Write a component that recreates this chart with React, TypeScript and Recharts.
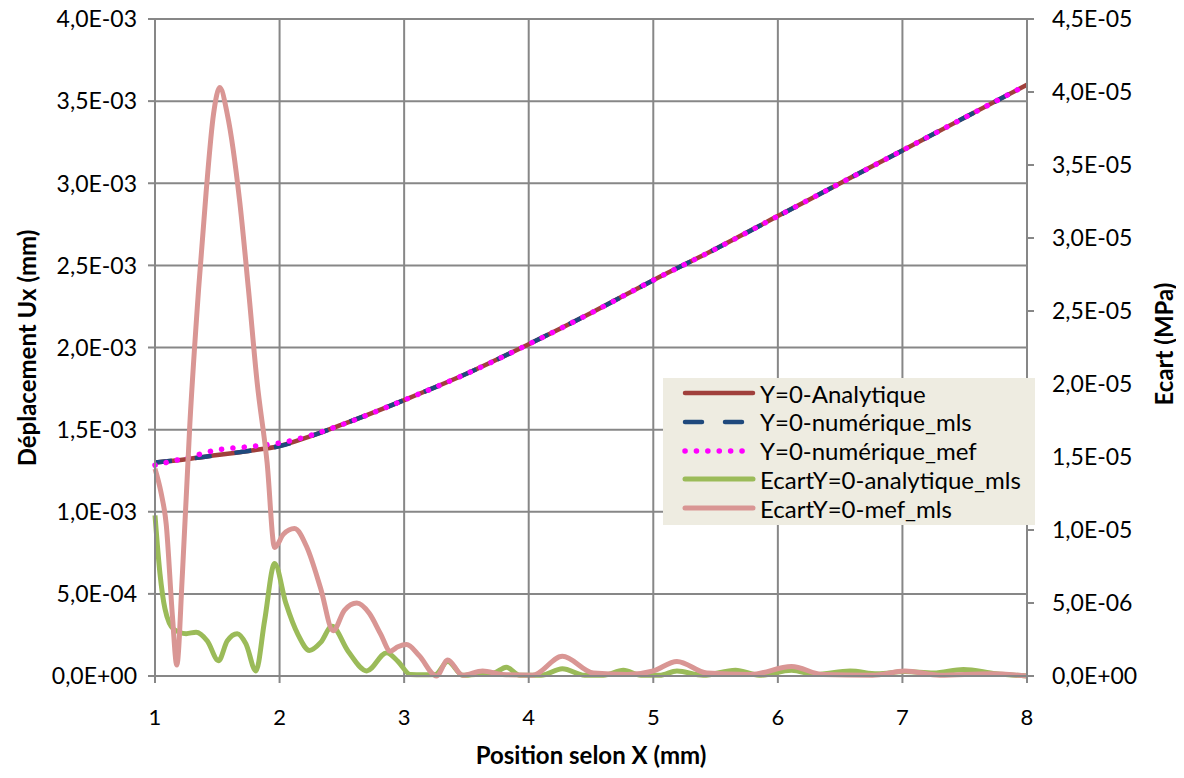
import React from 'react';
import { LineChart, Line, XAxis, YAxis, CartesianGrid, Legend, Label } from 'recharts';

// displacement curves (mm), left axis
const posMain = [1, 1.25, 1.5, 1.75, 2, 2.25, 2.5, 3, 3.5, 4, 4.5, 5, 5.5, 6, 6.5, 7, 7.5, 8];
const uxAnalytique = [1.3e-3, 1.32e-3, 1.345e-3, 1.37e-3, 1.4e-3, 1.46e-3, 1.53e-3, 1.68e-3, 1.84e-3, 2.02e-3, 2.21e-3, 2.41e-3, 2.6e-3, 2.8e-3, 3.0e-3, 3.2e-3, 3.4e-3, 3.6e-3];
const uxMls = [1.3e-3, 1.32e-3, 1.345e-3, 1.37e-3, 1.4e-3, 1.46e-3, 1.53e-3, 1.68e-3, 1.84e-3, 2.02e-3, 2.21e-3, 2.41e-3, 2.6e-3, 2.8e-3, 3.0e-3, 3.2e-3, 3.4e-3, 3.6e-3];
const uxMef = [1.284e-3, 1.328e-3, 1.376e-3, 1.396e-3, 1.418e-3, 1.465e-3, 1.53e-3, 1.68e-3, 1.84e-3, 2.02e-3, 2.21e-3, 2.41e-3, 2.6e-3, 2.8e-3, 3.0e-3, 3.2e-3, 3.4e-3, 3.6e-3];

// ecart (MPa), right axis
const posEcartMls = [1, 1.04, 1.08, 1.15, 1.25, 1.33, 1.42, 1.51, 1.58, 1.66, 1.73, 1.81, 1.88, 1.96, 2.05, 2.15, 2.24, 2.33, 2.42, 2.55, 2.7, 2.86, 2.95, 3.05, 3.15, 3.25, 3.35, 3.47, 3.63, 3.72, 3.82, 3.93, 4.1, 4.27, 4.45, 4.6, 4.76, 4.9, 5.05, 5.19, 5.4, 5.66, 5.85, 6.11, 6.3, 6.58, 6.8, 7.02, 7.25, 7.49, 7.75, 8];
const ecartMls = [11.0e-6, 7.0e-6, 4.6e-6, 3.2e-6, 2.9e-6, 3.0e-6, 2.4e-6, 1.05e-6, 2.4e-6, 2.9e-6, 2.2e-6, 0.35e-6, 3.8e-6, 7.7e-6, 5.0e-6, 2.8e-6, 1.75e-6, 2.3e-6, 3.4e-6, 1.7e-6, 0.35e-6, 1.6e-6, 1.0e-6, 0.1e-6, 0.08e-6, 0.1e-6, 1.0e-6, 0.05e-6, 0.15e-6, 0.2e-6, 0.6e-6, 0.05e-6, 0.05e-6, 0.5e-6, 0.05e-6, 0.05e-6, 0.4e-6, 0.05e-6, 0.05e-6, 0.35e-6, 0.05e-6, 0.4e-6, 0.05e-6, 0.4e-6, 0.1e-6, 0.35e-6, 0.15e-6, 0.3e-6, 0.2e-6, 0.45e-6, 0.15e-6, 0];

const posEcartMef = [1, 1.05, 1.09, 1.14, 1.175, 1.22, 1.28, 1.35, 1.41, 1.47, 1.52, 1.58, 1.68, 1.75, 1.82, 1.9, 1.96, 2.03, 2.12, 2.22, 2.33, 2.43, 2.52, 2.62, 2.72, 2.81, 2.89, 2.95, 3.02, 3.12, 3.26, 3.35, 3.47, 3.63, 3.79, 4.03, 4.27, 4.52, 4.79, 5.0, 5.19, 5.43, 5.78, 6.11, 6.36, 6.76, 7.02, 7.3, 7.7, 8];
const ecartMef = [14.2e-6, 12.5e-6, 10.4e-6, 4.1e-6, 0.75e-6, 7.0e-6, 17.3e-6, 26.5e-6, 33.1e-6, 38.5e-6, 40.3e-6, 38.5e-6, 32.5e-6, 26.5e-6, 20.1e-6, 14.6e-6, 8.8e-6, 9.7e-6, 10.1e-6, 8.8e-6, 6.0e-6, 3.1e-6, 4.5e-6, 5.0e-6, 4.3e-6, 2.9e-6, 1.7e-6, 2.0e-6, 2.15e-6, 1.4e-6, 0, 1.1e-6, 0.05e-6, 0.35e-6, 0.1e-6, 0.05e-6, 1.35e-6, 0.2e-6, 0.1e-6, 0.35e-6, 1.0e-6, 0.2e-6, 0.1e-6, 0.65e-6, 0.1e-6, 0.05e-6, 0.35e-6, 0.05e-6, 0.15e-6, 0];

const xTicks = [1, 2, 3, 4, 5, 6, 7, 8];
const leftTicks = [0, 0.5e-3, 1e-3, 1.5e-3, 2e-3, 2.5e-3, 3e-3, 3.5e-3, 4e-3];
const rightTicks = [0, 5e-6, 1e-5, 1.5e-5, 2e-5, 2.5e-5, 3e-5, 3.5e-5, 4e-5, 4.5e-5];

const seriesNames = ['Y=0-Analytique', 'Y=0-numérique_mls', 'Y=0-numérique_mef', 'EcartY=0-analytique_mls', 'EcartY=0-mef_mls'];

const toPoints = (xs: number[], ys: number[]) => xs.map((x, i) => ({ x, y: ys[i] }));

const fmtSci = (v: number) => {
    if (v === 0) return '0,0E+00';
    const [m, e] = v.toExponential(1).split('e');
    const n = parseInt(e, 10);
    return m.replace('.', ',') + 'E' + (n < 0 ? '-' : '+') + String(Math.abs(n)).padStart(2, '0');
};

const FONT = 'Lato, "Open Sans", sans-serif';
const GRID = '#878787';

const styles = [
    { stroke: '#A0403C', width: 4.5, dash: undefined as string | undefined },
    { stroke: '#1F497D', width: 4.5, dash: '17 23' },
    { stroke: '#FF00FF', width: 5.5, dash: '0.1 11.3' },
    { stroke: '#9BBB59', width: 5, dash: undefined },
    { stroke: '#D99694', width: 5, dash: undefined },
];

const XTick = (props: any) => {
    const { x, y, payload } = props;
    return (
        <text x={x} y={y + 40} textAnchor="middle" fontFamily={FONT} fontSize={22} fill="#000">
            {payload.value}
        </text>
    );
};

const YTick = (props: any) => {
    const { x, y, payload, textAnchor } = props;
    return (
        <text x={x} y={y} dy="0.36em" textAnchor={textAnchor} fontFamily={FONT} fontSize={23} fill="#000">
            {fmtSci(payload.value)}
        </text>
    );
};

const LegendBox = () => (
    <div style={{ background: '#EEECE1', width: 372, height: 147, fontFamily: FONT, fontSize: 24, color: '#000', position: 'relative' }}>
        {seriesNames.map((name, i) => {
            const s = styles[i];
            const cy = 15 + i * 28.8;
            return (
                <div key={name} style={{ position: 'absolute', left: 0, top: cy - 14, height: 28, display: 'flex', alignItems: 'center' }}>
                    <svg width={94} height={28} style={{ display: 'block' }}>
                        <line x1={22} y1={14} x2={90} y2={14} stroke={s.stroke} strokeWidth={s.width} strokeDasharray={s.dash} strokeLinecap="round" />
                    </svg>
                    <span style={{ marginLeft: 3, whiteSpace: 'nowrap' }}>{name}</span>
                </div>
            );
        })}
    </div>
);

export default function App() {
    return (
        <div style={{ position: 'relative', top: -8, left: -8, width: 1184, height: 778 }}>
            <LineChart width={1184} height={778} margin={{ top: 19, right: 0, bottom: 0, left: 0 }}>
                <CartesianGrid yAxisId="left" stroke={GRID} strokeWidth={2} />
                <XAxis
                    dataKey="x"
                    type="number"
                    domain={[1, 8]}
                    ticks={xTicks}
                    allowDuplicatedCategory={false}
                    height={102}
                    stroke={GRID}
                    strokeWidth={2}
                    tickSize={7}
                    tick={<XTick />}
                >
                    <Label
                        content={() => (
                            <text x={591} y={754} textAnchor="middle" dominantBaseline="central" fontFamily={FONT} fontWeight="bold" fontSize={24} fill="#000">
                                Position selon X (mm)
                            </text>
                        )}
                    />
                </XAxis>
                <YAxis
                    yAxisId="left"
                    orientation="left"
                    type="number"
                    domain={[0, 4e-3]}
                    ticks={leftTicks}
                    width={155}
                    stroke={GRID}
                    strokeWidth={2}
                    tickSize={7}
                    tickMargin={11}
                    tick={<YTick />}
                >
                    <Label
                        content={() => (
                            <text x={26} y={348} transform="rotate(-90 26 348)" textAnchor="middle" dominantBaseline="central" fontFamily={FONT} fontWeight="bold" fontSize={24} fill="#000">
                                Déplacement Ux (mm)
                            </text>
                        )}
                    />
                </YAxis>
                <YAxis
                    yAxisId="right"
                    orientation="right"
                    type="number"
                    domain={[0, 4.5e-5]}
                    ticks={rightTicks}
                    width={157}
                    stroke={GRID}
                    strokeWidth={2}
                    tickSize={7}
                    tickMargin={18}
                    tick={<YTick />}
                >
                    <Label
                        content={() => (
                            <text x={1163} y={344} transform="rotate(-90 1163 344)" textAnchor="middle" dominantBaseline="central" fontFamily={FONT} fontWeight="bold" fontSize={24} fill="#000">
                                Ecart (MPa)
                            </text>
                        )}
                    />
                </YAxis>
                <Line yAxisId="left" data={toPoints(posMain, uxAnalytique)} dataKey="y" name={seriesNames[0]} type="monotone" stroke={styles[0].stroke} strokeWidth={styles[0].width} dot={false} isAnimationActive={false} />
                <Line yAxisId="left" data={toPoints(posMain, uxMls)} dataKey="y" name={seriesNames[1]} type="monotone" stroke={styles[1].stroke} strokeWidth={styles[1].width} strokeDasharray={styles[1].dash} strokeLinecap="butt" dot={false} isAnimationActive={false} />
                <Line yAxisId="left" data={toPoints(posMain, uxMef)} dataKey="y" name={seriesNames[2]} type="monotone" stroke={styles[2].stroke} strokeWidth={styles[2].width} strokeDasharray={styles[2].dash} strokeLinecap="round" dot={false} isAnimationActive={false} />
                <Line yAxisId="right" data={toPoints(posEcartMls, ecartMls)} dataKey="y" name={seriesNames[3]} type="monotone" stroke={styles[3].stroke} strokeWidth={styles[3].width} strokeLinejoin="round" dot={false} isAnimationActive={false} />
                <Line yAxisId="right" data={toPoints(posEcartMef, ecartMef)} dataKey="y" name={seriesNames[4]} type="monotone" stroke={styles[4].stroke} strokeWidth={styles[4].width} strokeLinejoin="round" dot={false} isAnimationActive={false} />
                <Legend
                    layout="vertical"
                    align="center"
                    verticalAlign="middle"
                    wrapperStyle={{ position: 'absolute', left: 663, top: 378, width: 372, height: 147 }}
                    content={() => <LegendBox />}
                />
            </LineChart>
        </div>
    );
}
